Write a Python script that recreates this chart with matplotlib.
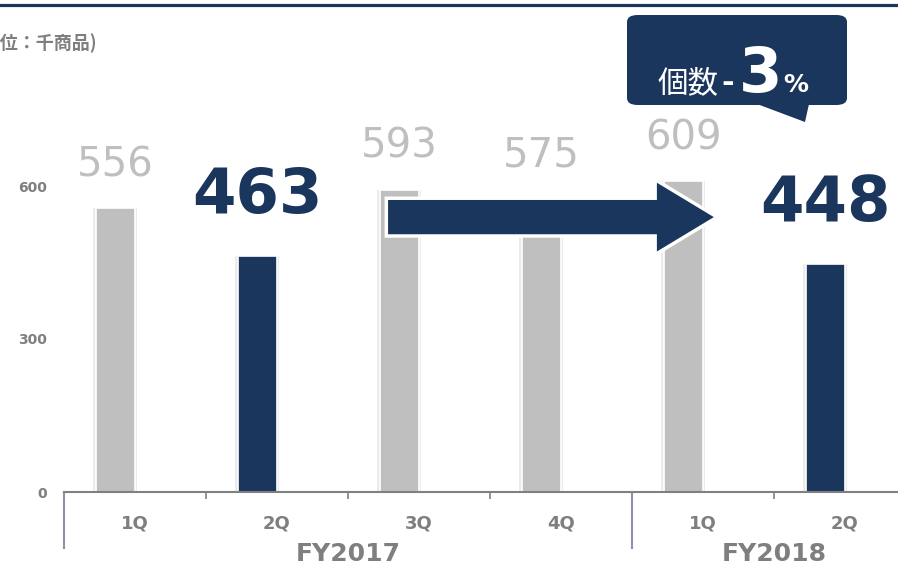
import matplotlib.pyplot as plt
from matplotlib.patches import FancyArrow, FancyBboxPatch, Polygon
from matplotlib.lines import Line2D

NAVY = '#1b365d'
GRAY_BAR = '#bfbfbf'
GRAY_TXT = '#7f7f7f'
SEP = '#8d90b3'

quarters = ['1Q', '2Q', '3Q', '4Q', '1Q', '2Q']
years = ['FY2017', 'FY2018']
year_span = [(0, 3), (4, 5)]
values = [556, 463, 593, 575, 609, 448]
highlight = [False, True, False, False, False, True]

W, H = 898, 566
fig = plt.figure(figsize=(W / 100, H / 100), dpi=100)
plt.rcParams['font.family'] = ['DejaVu Sans']
CJK = ['Noto Sans CJK JP', 'DejaVu Sans']


def fx(px):
    return px / W


def fy(py):
    return 1 - py / H


# plot area runs past the right edge of the figure
ax = fig.add_axes([fx(64), fy(492), 852 / W, 408 / H])
ax.set_xlim(-0.5, 5.5)
ax.set_ylim(0, 800)

shift = -0.14
bw = 0.275
xs = [i + shift for i in range(len(values))]
colors = [NAVY if h else GRAY_BAR for h in highlight]

# soft halo behind each bar
ax.bar(xs, values, width=bw + 0.04, color='#ebebeb', zorder=1)
ax.bar(xs, values, width=bw, color=colors, edgecolor='white', linewidth=1.2, zorder=2)

for x, v, h in zip(xs, values, highlight):
    if h:
        ax.annotate(str(v), xy=(x, v), xytext=(0, 43), textcoords='offset points',
                    ha='center', va='center', fontsize=45, fontweight='bold', color=NAVY)
    else:
        ax.annotate(str(v), xy=(x, v), xytext=(0, 31), textcoords='offset points',
                    ha='center', va='center', fontsize=29, color=GRAY_BAR)

# axes styling
for s in ['top', 'right', 'left']:
    ax.spines[s].set_visible(False)
ax.spines['bottom'].set_color('#808080')
ax.spines['bottom'].set_linewidth(1.5)
ax.set_yticks([0, 300, 600])
ax.tick_params(axis='y', length=0, pad=12, labelsize=10, labelcolor=GRAY_TXT)
for t in ax.get_yticklabels():
    t.set_fontweight('bold')
ax.set_xticks(range(len(quarters)))
ax.set_xticklabels(quarters, fontsize=13, fontweight='bold', color=GRAY_TXT)
ax.tick_params(axis='x', which='major', length=0, pad=16)
ax.set_xticks([0.5, 1.5, 2.5, 4.5], minor=True)
ax.tick_params(axis='x', which='minor', length=5, width=1.2, color='#808080', direction='out')

# fiscal-year separators and labels
trans = ax.get_xaxis_transform()
drop = 56 / 408
for x in [-0.5, 3.5]:
    ax.add_line(Line2D([x, x], [0, -drop], transform=trans, color=SEP, lw=1.5, clip_on=False))
for name, (a, b) in zip(years, year_span):
    ax.text((a + b) / 2, -62 / 408, name, transform=trans, ha='center', va='center',
            fontsize=18, fontweight='bold', color=GRAY_TXT, clip_on=False)

# trend arrow from FY2017 3Q to FY2018 1Q
arrow = FancyArrow(1.77, 539, 2.33, 0, width=74, head_width=147, head_length=0.437,
                   length_includes_head=True, facecolor=NAVY, edgecolor='white',
                   linewidth=2.5, zorder=5)
ax.add_patch(arrow)

# callout box with tail
box = FancyBboxPatch((fx(627) + 0.012, fy(105) + 0.012), fx(847 - 627) - 0.024,
                     (105 - 15) / H - 0.024, boxstyle='round,pad=0.012',
                     transform=fig.transFigure, facecolor=NAVY, edgecolor='none')
fig.add_artist(box)
tail = Polygon([(fx(757), fy(104)), (fx(809), fy(104)), (fx(805), fy(122))],
               closed=True, transform=fig.transFigure, facecolor=NAVY, edgecolor='none')
fig.add_artist(tail)
fig.text(fx(658), fy(92), '個数', fontsize=22, color='white', va='baseline', family=CJK)
fig.text(fx(721), fy(92), '-', fontsize=22, fontweight='bold', color='white', va='baseline')
fig.text(fx(739), fy(92), '3', fontsize=45, fontweight='bold', color='white', va='baseline')
fig.text(fx(783), fy(92), '%', fontsize=18, fontweight='bold', color='white', va='baseline')

# unit label, left part runs off the figure
fig.text(fx(97), fy(43), '(単位：千商品)', ha='right', va='center', fontsize=13,
         fontweight='bold', color=GRAY_TXT, family=CJK)

# header rule
fig.add_artist(Line2D([0, 1], [fy(4.5), fy(4.5)], transform=fig.transFigure, color=NAVY, lw=2.3))

fig.savefig('out.png', dpi=100)
